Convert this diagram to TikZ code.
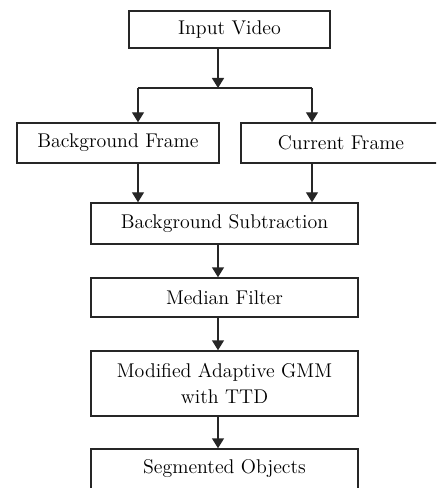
\documentclass[tikz,border=0pt]{standalone}
\usepackage{tikz}
\usetikzlibrary{arrows.meta, calc}

\begin{document}
\begin{tikzpicture}[
    x=0.75pt, y=0.75pt,
    stage/.style = {rectangle, draw=black!85, line width=1.1pt, align=center, inner sep=0pt, font=\fontsize{14.9}{19}\selectfont, minimum width=200.25pt, minimum height=30pt},
    arrow/.style = {draw=black!85, line width=1.1pt, -{Triangle[width=9pt,length=7.5pt]}}
]
\useasboundingbox (0,0) rectangle (436,-488);
\clip (0,0) rectangle (436,-488);

% Top: input, split into the two frames
\node (vid) [stage, minimum width=150.75pt, minimum height=27.75pt] at (229.5,-29.5) {Input Video};
\node (bg) [stage, minimum width=151.5pt] at (118,-143) {Background Frame};
\node (cur) [stage, minimum width=150pt] at (341,-143) {Current Frame};

% Main column
\node (sub) [stage, minimum height=30.75pt] at (224.5,-223.5) {Background Subtraction};
\node (med) [stage, minimum height=29.25pt] at (224.5,-297.5) {Median Filter};
\node (gmm) [stage, minimum height=48.75pt] at (224.5,-383.5) {Modified Adaptive GMM\\with TTD};
\node (seg) [stage] at (224.5,-469) {Segmented Objects};

% Branch points
\coordinate (split) at (218,-88);
\coordinate (lft) at (138,-88);
\coordinate (rgt) at (312,-88);

% Connections: input to frames
\draw [arrow] (vid.south -| split) -- (split);
\draw [draw=black!85, line width=1.1pt] (lft) -- (rgt);
\draw [arrow] (lft) -- (lft |- bg.north);
\draw [arrow] (rgt) -- (rgt |- cur.north);

% Frames into subtraction
\draw [arrow] (bg.south -| lft) -- (sub.north -| lft);
\draw [arrow] (cur.south -| rgt) -- (sub.north -| rgt);

% Down the column
\draw [arrow] (sub.south -| split) -- (med.north -| split);
\draw [arrow] (med.south -| split) -- (gmm.north -| split);
\draw [arrow] (gmm.south -| split) -- (seg.north -| split);

\end{tikzpicture}
\end{document}
